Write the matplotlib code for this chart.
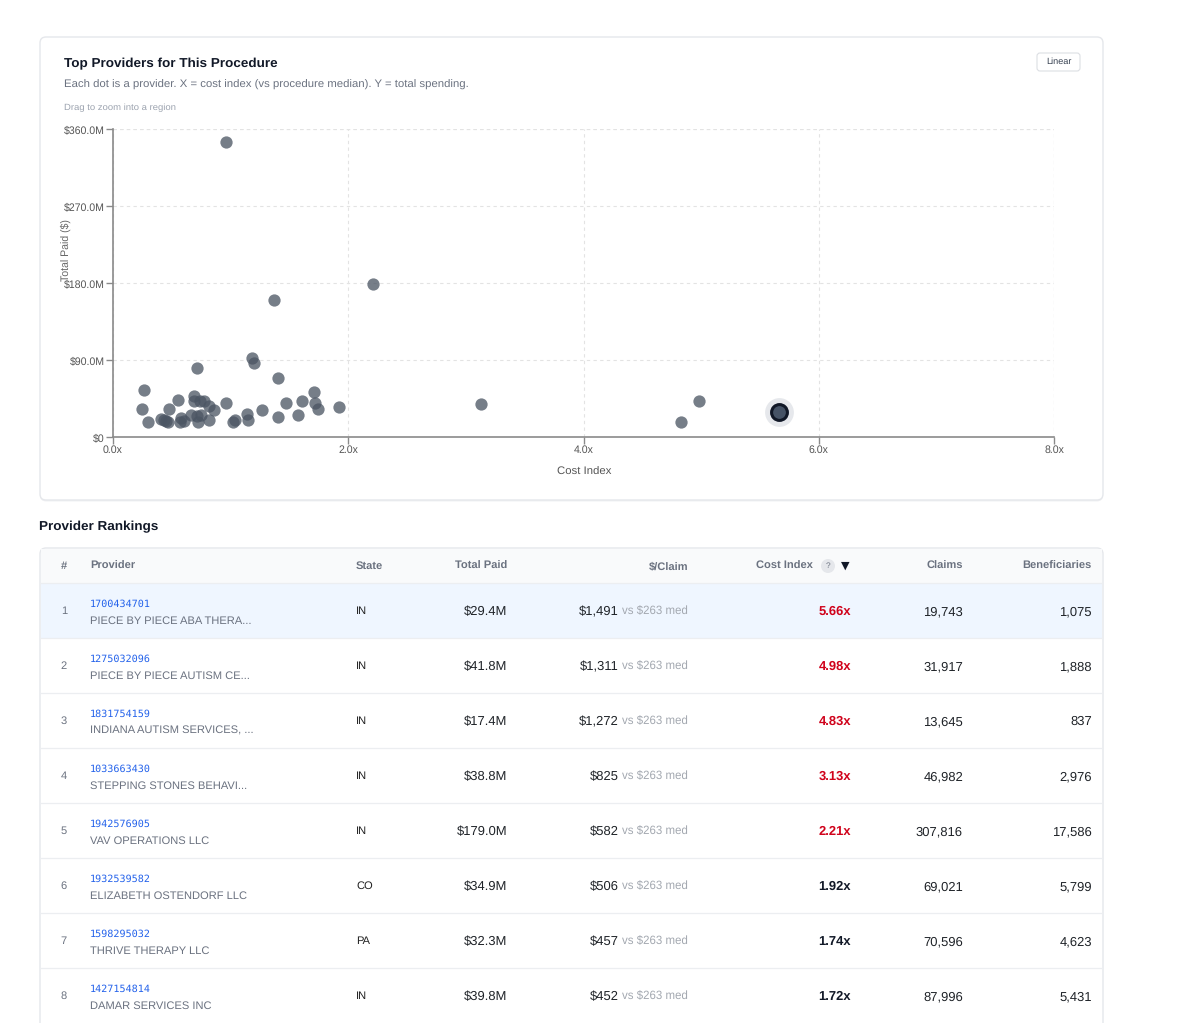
import numpy as np
import matplotlib
matplotlib.use("Agg")
import matplotlib.pyplot as plt
from matplotlib.patches import FancyBboxPatch, Rectangle, Circle

plt.rcParams['font.family'] = ['Liberation Sans', 'DejaVu Sans']
plt.rcParams['text.hinting'] = 'no_hinting'

################################ data ################################
# ranked providers (table rows, also drawn on the scatter)
rank = [1, 2, 3, 4, 5, 6, 7, 8]
npi = ['1700434701', '1275032096', '1831754159', '1033663430',
       '1942576905', '1932539582', '1598295032', '1427154814']
names = ['PIECE BY PIECE ABA THERA...', 'PIECE BY PIECE AUTISM CE...',
         'INDIANA AUTISM SERVICES, ...', 'STEPPING STONES BEHAVI...',
         'VAV OPERATIONS LLC', 'ELIZABETH OSTENDORF LLC',
         'THRIVE THERAPY LLC', 'DAMAR SERVICES INC']
states = ['IN', 'IN', 'IN', 'IN', 'IN', 'CO', 'PA', 'IN']
total_paid_m = [29.4, 41.8, 17.4, 38.8, 179.0, 34.9, 32.3, 39.8]
per_claim = [1491, 1311, 1272, 825, 582, 506, 457, 452]
median_claim = 263
cost_index = [5.66, 4.98, 4.83, 3.13, 2.21, 1.92, 1.74, 1.72]
claims = [19743, 31917, 13645, 46982, 307816, 69021, 70596, 87996]
benef = [1075, 1888, 837, 2976, 17586, 5799, 4623, 5431]

# other providers on the scatter (cost index, total paid $M)
other_ci = [0.96, 1.37, 0.26, 0.25, 0.30, 0.41, 0.43, 0.45, 0.47, 0.48,
            0.55, 0.57, 0.58, 0.60, 0.66, 0.69, 0.69, 0.71, 0.71, 0.72,
            0.74, 0.75, 0.77, 0.82, 0.86, 0.82, 0.96, 1.02, 1.04, 1.14,
            1.15, 1.18, 1.20, 1.27, 1.40, 1.40, 1.47, 1.57, 1.61, 1.71]
other_paid = [345.0, 160.0, 55.1, 32.6, 17.8, 20.9, 19.4, 18.2, 17.8, 33.0,
              42.7, 17.8, 21.7, 18.2, 26.0, 48.1, 41.5, 80.3, 24.8, 17.8,
              41.9, 25.2, 42.3, 36.5, 31.8, 19.4, 40.3, 17.8, 19.8, 26.4,
              20.2, 92.7, 86.9, 31.0, 68.7, 23.3, 39.2, 25.2, 41.5, 53.1]

x_ticks = [0, 2, 4, 6, 8]
y_ticks = [0, 90, 180, 270, 360]

W, H = 1200, 1023
fig = plt.figure(figsize=(W / 100, H / 100), dpi=100)
fig.patch.set_facecolor('white')

# pixel-space background axes for cards / table
bg = fig.add_axes([0, 0, 1, 1])
bg.set_xlim(0, W)
bg.set_ylim(H, 0)
bg.axis('off')

def card(x0, y0, x1, y1, fc='white', ec='#e5e7eb', r=6, z=0):
    # soft shadow then card
    bg.add_patch(FancyBboxPatch((x0, y0 + 1.5), x1 - x0, y1 - y0,
                                boxstyle='round,pad=0,rounding_size=%d' % r,
                                fc='#f1f2f4', ec='none', zorder=z))
    bg.add_patch(FancyBboxPatch((x0, y0), x1 - x0, y1 - y0,
                                boxstyle='round,pad=0,rounding_size=%d' % r,
                                fc=fc, ec=ec, lw=1, zorder=z + 0.1))

# chart card
card(40, 37, 1103, 500)
bg.text(64, 64, 'Top Providers for This Procedure', fontsize=9.7, fontweight='bold',
        color='#111827', va='center')
bg.text(64, 85, 'Each dot is a provider. X = cost index (vs procedure median). Y = total spending.',
        fontsize=8.2, color='#6b7280', va='center')
bg.text(64, 108, 'Drag to zoom into a region', fontsize=6.8, color='#9ca3af', va='center')

# Linear toggle
bg.add_patch(FancyBboxPatch((1037, 53), 43, 18, boxstyle='round,pad=0,rounding_size=3',
                            fc='white', ec='#dcdfe3', lw=0.8, zorder=1))
bg.text(1058.5, 62, 'Linear', fontsize=6.6, color='#374151', ha='center', va='center', zorder=2)

bg.text(66, 250, 'Total Paid ($)', rotation=90, fontsize=7.6, color='#666',
        ha='center', va='center', zorder=5)
bg.text(584, 472, 'Cost Index', fontsize=8.2, color='#555', ha='center', va='center')

############################ scatter ############################
ax = fig.add_axes([113 / W, 1 - 437 / H, (1054 - 113) / W, (437 - 129) / H])
ax.set_facecolor('none')
ax.set_xlim(0, 8)
ax.set_ylim(0, 360)
ax.set_xticks(x_ticks)
ax.set_yticks(y_ticks)
ax.set_xticklabels(['%.1fx' % v for v in x_ticks])
ax.set_yticklabels(['$0' if v == 0 else '$%.1fM' % v for v in y_ticks])
for s in ['top', 'right']:
    ax.spines[s].set_visible(False)
for s in ['left', 'bottom']:
    ax.spines[s].set_color('#8a8a8a')
    ax.spines[s].set_linewidth(1.2)
ax.tick_params(length=5, width=1, color='#8a8a8a', labelsize=7.6,
               labelcolor='#555', pad=1)
ax.grid(True, ls=(0, (3, 3)), color='#e3e3e3', lw=0.8)
# closing grid lines at the top / right edges
ax.axhline(360, ls=(0, (3, 3)), color='#e3e3e3', lw=0.8)
ax.axvline(8, ls=(0, (3, 3)), color='#e3e3e3', lw=0.8)

dot = '#4b5563'
ax.scatter(other_ci, other_paid, s=78, color=dot, alpha=0.76, lw=0, zorder=3, clip_on=False)
ax.scatter(cost_index[1:], total_paid_m[1:], s=78, color=dot, alpha=0.76, lw=0,
           zorder=3, clip_on=False)
# selected provider
ax.scatter(cost_index[:1], total_paid_m[:1], s=430, color='#e6e8ec', lw=0, zorder=4)
ax.scatter(cost_index[:1], total_paid_m[:1], s=130, color='#465366', ec='#111827',
           lw=2.2, zorder=5)

############################ table ############################
bg.text(39, 527, 'Provider Rankings', fontsize=9.7, fontweight='bold',
        color='#111827', va='center')

card(40, 548, 1103, 1040)
bg.add_patch(Rectangle((41, 549), 1061, 34, fc='#f9fafb', ec='none', zorder=1))
bg.add_patch(Rectangle((41, 584), 1061, 54, fc='#eff6ff', ec='none', zorder=1))

hy = 566
hkw = dict(fontsize=8, fontweight='bold', color='#6b7280', va='center', zorder=3)
bg.text(64, hy, '#', ha='center', **hkw)
bg.text(90, hy, 'Provider', ha='left', **hkw)
bg.text(356, hy, 'State', ha='left', **hkw)
bg.text(507, hy, 'Total Paid', ha='right', **hkw)
bg.text(688, hy, '$/Claim', ha='right', **hkw)
bg.text(813, hy, 'Cost Index', ha='right', **hkw)
bg.add_patch(Circle((828, hy), 7, fc='#e5e7eb', ec='none', zorder=3))
bg.text(828, hy, '?', fontsize=6, color='#6b7280', ha='center', va='center', zorder=4)
bg.text(845, hy, '\u25bc', fontsize=8, color='#111827', ha='center', va='center',
        family='DejaVu Sans', zorder=3)
bg.text(963, hy, 'Claims', ha='right', **hkw)
bg.text(1092, hy, 'Beneficiaries', ha='right', **hkw)

row_h = 55
for i in range(len(rank)):
    top = 583 + i * row_h
    cy = top + row_h / 2 + 1
    bg.plot([41, 1102], [top, top], color='#eceef1', lw=0.9, zorder=2)
    bg.text(64, cy, str(rank[i]), fontsize=8, color='#6b7280', ha='center', va='center', zorder=3)
    bg.text(90, cy - 7, npi[i], fontsize=7.3, color='#2563eb', family='DejaVu Sans Mono',
            ha='left', va='center', zorder=3)
    bg.text(90, cy + 9.5, names[i], fontsize=8, color='#6b7280', ha='left', va='center', zorder=3)
    bg.text(356, cy, states[i], fontsize=8, color='#222', ha='left', va='center', zorder=3)
    bg.text(507, cy, '$%.1fM' % total_paid_m[i], fontsize=9.4, color='#1f2328',
            ha='right', va='center', zorder=3)
    bg.text(688, cy, 'vs $%d med' % median_claim, fontsize=8.3, color='#a3a8b0',
            ha='right', va='center', zorder=3)
    bg.text(619, cy, '${:,}'.format(per_claim[i]), fontsize=9.4, color='#1f2328',
            ha='right', va='center', zorder=3)
    ccol = '#d0021b' if cost_index[i] > 2 else '#111827'
    bg.text(851, cy, '%.2fx' % cost_index[i], fontsize=9.4, fontweight='bold', color=ccol,
            ha='right', va='center', zorder=3)
    bg.text(963, cy, '{:,}'.format(claims[i]), fontsize=9.4, color='#1f2328',
            ha='right', va='center', zorder=3)
    bg.text(1092, cy, '{:,}'.format(benef[i]), fontsize=9.4, color='#1f2328',
            ha='right', va='center', zorder=3)

fig.savefig('out.png', dpi=100, facecolor='white')
